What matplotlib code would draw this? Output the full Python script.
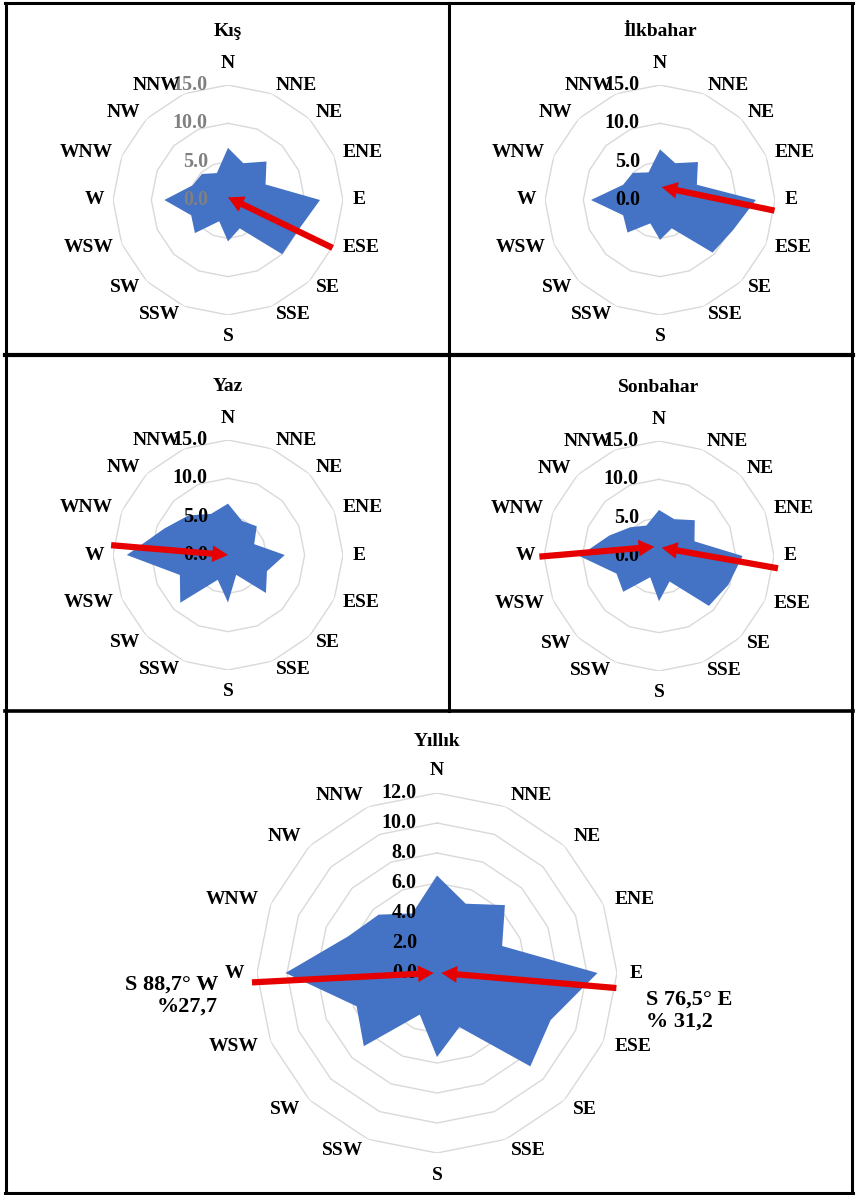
import numpy as np
import matplotlib
matplotlib.use("Agg")
import matplotlib.pyplot as plt
from matplotlib.lines import Line2D

plt.rcParams['font.family'] = ['Liberation Serif', 'DejaVu Serif']
plt.rcParams['font.weight'] = 'bold'

# wind directions and frequencies (%)
dirs = ['N', 'NNE', 'NE', 'ENE', 'E', 'ESE', 'SE', 'SSE',
        'S', 'SSW', 'SW', 'WSW', 'W', 'WNW', 'NW', 'NNW']

kis = [6.8, 5.2, 7.1, 5.3, 12.0, 10.0, 10.0, 4.0, 5.4, 3.0, 6.1, 5.2, 8.3, 5.0, 4.8, 3.8]
ilkbahar = [6.6, 5.2, 7.0, 5.2, 12.5, 10.3, 9.7, 4.0, 5.2, 3.3, 6.0, 5.2, 9.0, 5.2, 5.0, 3.9]
yaz = [6.7, 4.8, 5.3, 3.7, 7.4, 5.5, 7.0, 2.8, 6.2, 3.5, 8.8, 6.8, 13.2, 9.0, 7.3, 5.8]
sonbahar = [6.0, 5.2, 6.6, 5.0, 10.9, 9.8, 9.2, 3.6, 5.9, 3.0, 6.6, 6.0, 10.4, 7.0, 5.3, 4.3]
yillik = [6.5, 5.0, 6.4, 4.7, 10.7, 8.2, 8.8, 3.9, 5.6, 3.0, 6.9, 5.8, 10.1, 6.4, 5.5, 4.3]

season_rings = [0, 5, 10, 15]
annual_rings = [0, 2, 4, 6, 8, 10, 12]

# resultant arrows: (tail angle deg, tail r, tip angle deg, tip r)
kis_arrows = [(114.6, 15.0, 0, 0.35)]
ilkbahar_arrows = [(95.3, 15.0, 7.5, 1.7)]
yaz_arrows = [(274.8, 15.3, 0, 0.0)]
sonbahar_arrows = [(269.7, 15.6, 333, 1.35), (95.9, 15.6, 18, 1.13)]
yillik_arrows = [(267.1, 12.35, 270, 0.22), (94.8, 12.0, 90, 0.29)]

yillik_notes = ['S 88,7° W\n%27,7', 'S 76,5° E\n% 31,2']

BLUE = '#4472c4'
RED = '#e60000'
GRID = '#d9d9d9'

W, H = 856, 1195
fig = plt.figure(figsize=(W / 100, H / 100), dpi=100)

theta = np.deg2rad(np.arange(len(dirs)) * 22.5)


def rose(title, vals, rings, arrows, cx, cy, rad, ring_col, lab_fac, ns_fac, title_dy):
    ax = fig.add_axes([(cx - rad) / W, (H - cy - rad) / H, 2 * rad / W, 2 * rad / H],
                      projection='polar')
    ax.set_theta_zero_location('N')
    ax.set_theta_direction(-1)
    rmax = rings[-1]
    ax.set_ylim(0, rmax)
    ax.axis('off')

    th = np.append(theta, theta[0])
    for v in rings[1:]:
        ax.plot(th, [v] * len(th), color=GRID, lw=1.0, zorder=1)
    ax.fill(th, np.append(vals, vals[0]), color=BLUE, lw=0, zorder=2)

    for v in rings:
        ax.annotate(f'{v:.1f}', xy=(0, v), xytext=(-14.5, 0), textcoords='offset points',
                    ha='right', va='center', fontsize=14.5, color=ring_col, zorder=3)

    for t, lab in zip(theta, dirs):
        s, c = np.sin(t), np.cos(t)
        if abs(s) < 0.1:
            ax.text(t, rmax * ns_fac, lab, ha='center', va='bottom' if c > 0 else 'top',
                    fontsize=14)
        else:
            ax.text(t, rmax * lab_fac, lab, ha='left' if s > 0 else 'right',
                    va='center', fontsize=14)

    for t0, r0, t1, r1 in arrows:
        ax.annotate('', xy=(np.deg2rad(t1), r1), xytext=(np.deg2rad(t0), r0),
                    arrowprops=dict(arrowstyle='simple,head_length=0.75,head_width=0.8,tail_width=0.3',
                                    mutation_scale=15, color=RED, lw=0, shrinkA=0, shrinkB=0),
                    zorder=4)

    ax.text(0.5, 1 + title_dy / (2 * rad), title, transform=ax.transAxes,
            ha='center', va='center', fontsize=14)
    return ax


rose('Kış', kis, season_rings, kis_arrows, 228, 200, 115, '#808080', 1.08, 1.11, 54)
rose('İlkbahar', ilkbahar, season_rings, ilkbahar_arrows, 660, 200, 115, 'black', 1.08, 1.11, 54)
rose('Yaz', yaz, season_rings, yaz_arrows, 228, 555, 115, 'black', 1.08, 1.11, 54)
rose('Sonbahar', sonbahar, season_rings, sonbahar_arrows, 659, 556, 115, 'black', 1.08, 1.11, 54)
ax = rose('Yıllık', yillik, annual_rings, yillik_arrows, 437, 973, 180, 'black', 1.07, 1.08, 51)

ax.text(-0.108, 0.437, yillik_notes[0], transform=ax.transAxes, ha='right', va='center',
        multialignment='right', fontsize=16, linespacing=1.1)
ax.text(1.081, 0.395, yillik_notes[1], transform=ax.transAxes, ha='left', va='center',
        multialignment='left', fontsize=16, linespacing=1.1)

# panel frames
def hline(y, x0, x1, lw=2.2):
    fig.add_artist(Line2D([x0 / W, x1 / W], [1 - y / H, 1 - y / H], color='black', lw=lw))


def vline(x, y0, y1, lw=2.2):
    fig.add_artist(Line2D([x / W, x / W], [1 - y0 / H, 1 - y1 / H], color='black', lw=lw))


hline(3, 5, 853)
hline(355, 5, 853, lw=3)
hline(711, 5, 853, lw=2.6)
hline(1193, 5, 853)
vline(6, 3, 1193)
vline(852, 3, 1193)
vline(449, 3, 711)

fig.savefig('out.png', dpi=100)
